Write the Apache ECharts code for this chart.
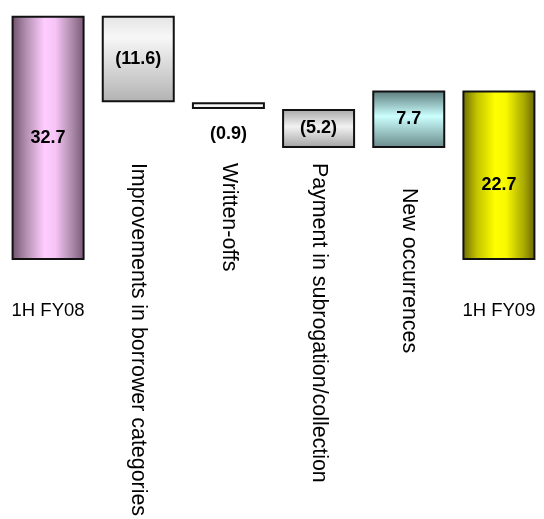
<!DOCTYPE html>
<html>
<head>
<meta charset="utf-8">
<script src="https://cdn.jsdelivr.net/npm/echarts@6/dist/echarts.min.js"></script>
<style>
  html, body { margin: 0; padding: 0; background: #ffffff; }
  #chart { width: 544px; height: 519px; }
</style>
</head>
<body>
<div id="chart"></div>
<script>
// Bridge of the outstanding balance between the two half-years
const categories = [
  '1H FY08',
  'Improvements in borrower categories',
  'Written-offs',
  'Payment in subrogation/collection',
  'New occurrences',
  '1H FY09'
];
const changes = [32.7, -11.6, -0.9, -5.2, 7.7, 22.7];
const isTotal = [true, false, false, false, false, true];

// Running totals give the invisible base and the visible step of each bar
const baseValues = [];
const stepValues = [];
let running = 0;
changes.forEach(function (v, i) {
  if (isTotal[i]) {
    baseValues.push(0);
    stepValues.push(v);
    running = v;
  } else {
    const next = running + v;
    baseValues.push(Math.min(running, next));
    stepValues.push(Math.abs(v));
    running = next;
  }
});

function fmt(v) {
  return v < 0 ? '(' + Math.abs(v).toFixed(1) + ')' : v.toFixed(1);
}

const G = echarts.graphic.LinearGradient;
// Shaded fills that give each bar its rounded/glossy look
const fills = [
  new G(0, 0, 1, 0, [
    { offset: 0, color: '#6f4f6c' }, { offset: 0.2, color: '#b28fb0' },
    { offset: 0.45, color: '#ffccff' }, { offset: 0.6, color: '#f6c4f6' },
    { offset: 0.85, color: '#a585a3' }, { offset: 1, color: '#765674' }
  ]),
  new G(0, 0, 0, 1, [
    { offset: 0, color: '#e4e4e4' }, { offset: 0.25, color: '#f7f7f7' },
    { offset: 1, color: '#b2b2b2' }
  ]),
  new G(0, 0, 0, 1, [
    { offset: 0, color: '#dcdcdc' }, { offset: 0.5, color: '#f8f8f8' },
    { offset: 1, color: '#d0d0d0' }
  ]),
  new G(0, 0, 0, 1, [
    { offset: 0, color: '#a6a6a6' }, { offset: 0.45, color: '#f2f2f2' },
    { offset: 1, color: '#a2a2a2' }
  ]),
  new G(0, 0, 0, 1, [
    { offset: 0, color: '#587878' }, { offset: 0.45, color: '#ccffff' },
    { offset: 1, color: '#688888' }
  ]),
  new G(0, 0, 1, 0, [
    { offset: 0, color: '#6c6c00' }, { offset: 0.2, color: '#c4c400' },
    { offset: 0.45, color: '#ffff00' }, { offset: 0.6, color: '#f8f800' },
    { offset: 0.85, color: '#a6a600' }, { offset: 1, color: '#666600' }
  ])
];

const FONT = '"Liberation Sans", Arial, Helvetica, sans-serif';

const chart = echarts.init(document.getElementById('chart'), null, { renderer: 'canvas' });

chart.setOption({
  animation: false,
  backgroundColor: '#ffffff',
  grid: { left: 3, width: 542, top: 6, height: 259, containLabel: false },
  xAxis: [
    {
      type: 'category',
      data: categories,
      position: 'bottom',
      axisLine: { show: false },
      axisTick: { show: false },
      axisLabel: {
        interval: 0,
        rotate: 0,
        margin: 41,
        fontFamily: FONT,
        fontSize: 18.5,
        color: '#000000',
        formatter: function (value, index) { return isTotal[index] ? value : ''; }
      }
    },
    {
      type: 'category',
      data: categories.map(function (c, i) {
        return i === 4 ? { value: c, textStyle: { padding: [0, 0, 0, 25] } } : c;
      }),
      position: 'bottom',
      offset: -97,
      axisLine: { show: false },
      axisTick: { show: false },
      axisLabel: {
        interval: 0,
        rotate: -90,
        margin: 0,
        fontFamily: FONT,
        fontSize: 21.4,
        color: '#000000',
        formatter: function (value, index) { return isTotal[index] ? '' : value; }
      }
    }
  ],
  yAxis: { type: 'value', min: 0, max: 34, show: false },
  series: [
    {
      type: 'bar',
      stack: 'bridge',
      silent: true,
      barWidth: 73,
      itemStyle: { color: 'rgba(0,0,0,0)' },
      data: baseValues
    },
    {
      type: 'bar',
      stack: 'bridge',
      barWidth: 73,
      data: stepValues.map(function (v, i) {
        const item = {
          value: v,
          itemStyle: { color: fills[i], borderColor: '#111111', borderWidth: 2 }
        };
        if (i === 2) {
          item.label = { position: 'bottom', distance: 16 };
        }
        if (i === 5) {
          item.label = { offset: [0, 10] };
        }
        return item;
      }),
      label: {
        show: true,
        position: 'inside',
        fontFamily: FONT,
        fontSize: 18,
        fontWeight: 'bold',
        color: '#000000',
        formatter: function (p) { return fmt(changes[p.dataIndex]); }
      }
    }
  ]
});
</script>
</body>
</html>
